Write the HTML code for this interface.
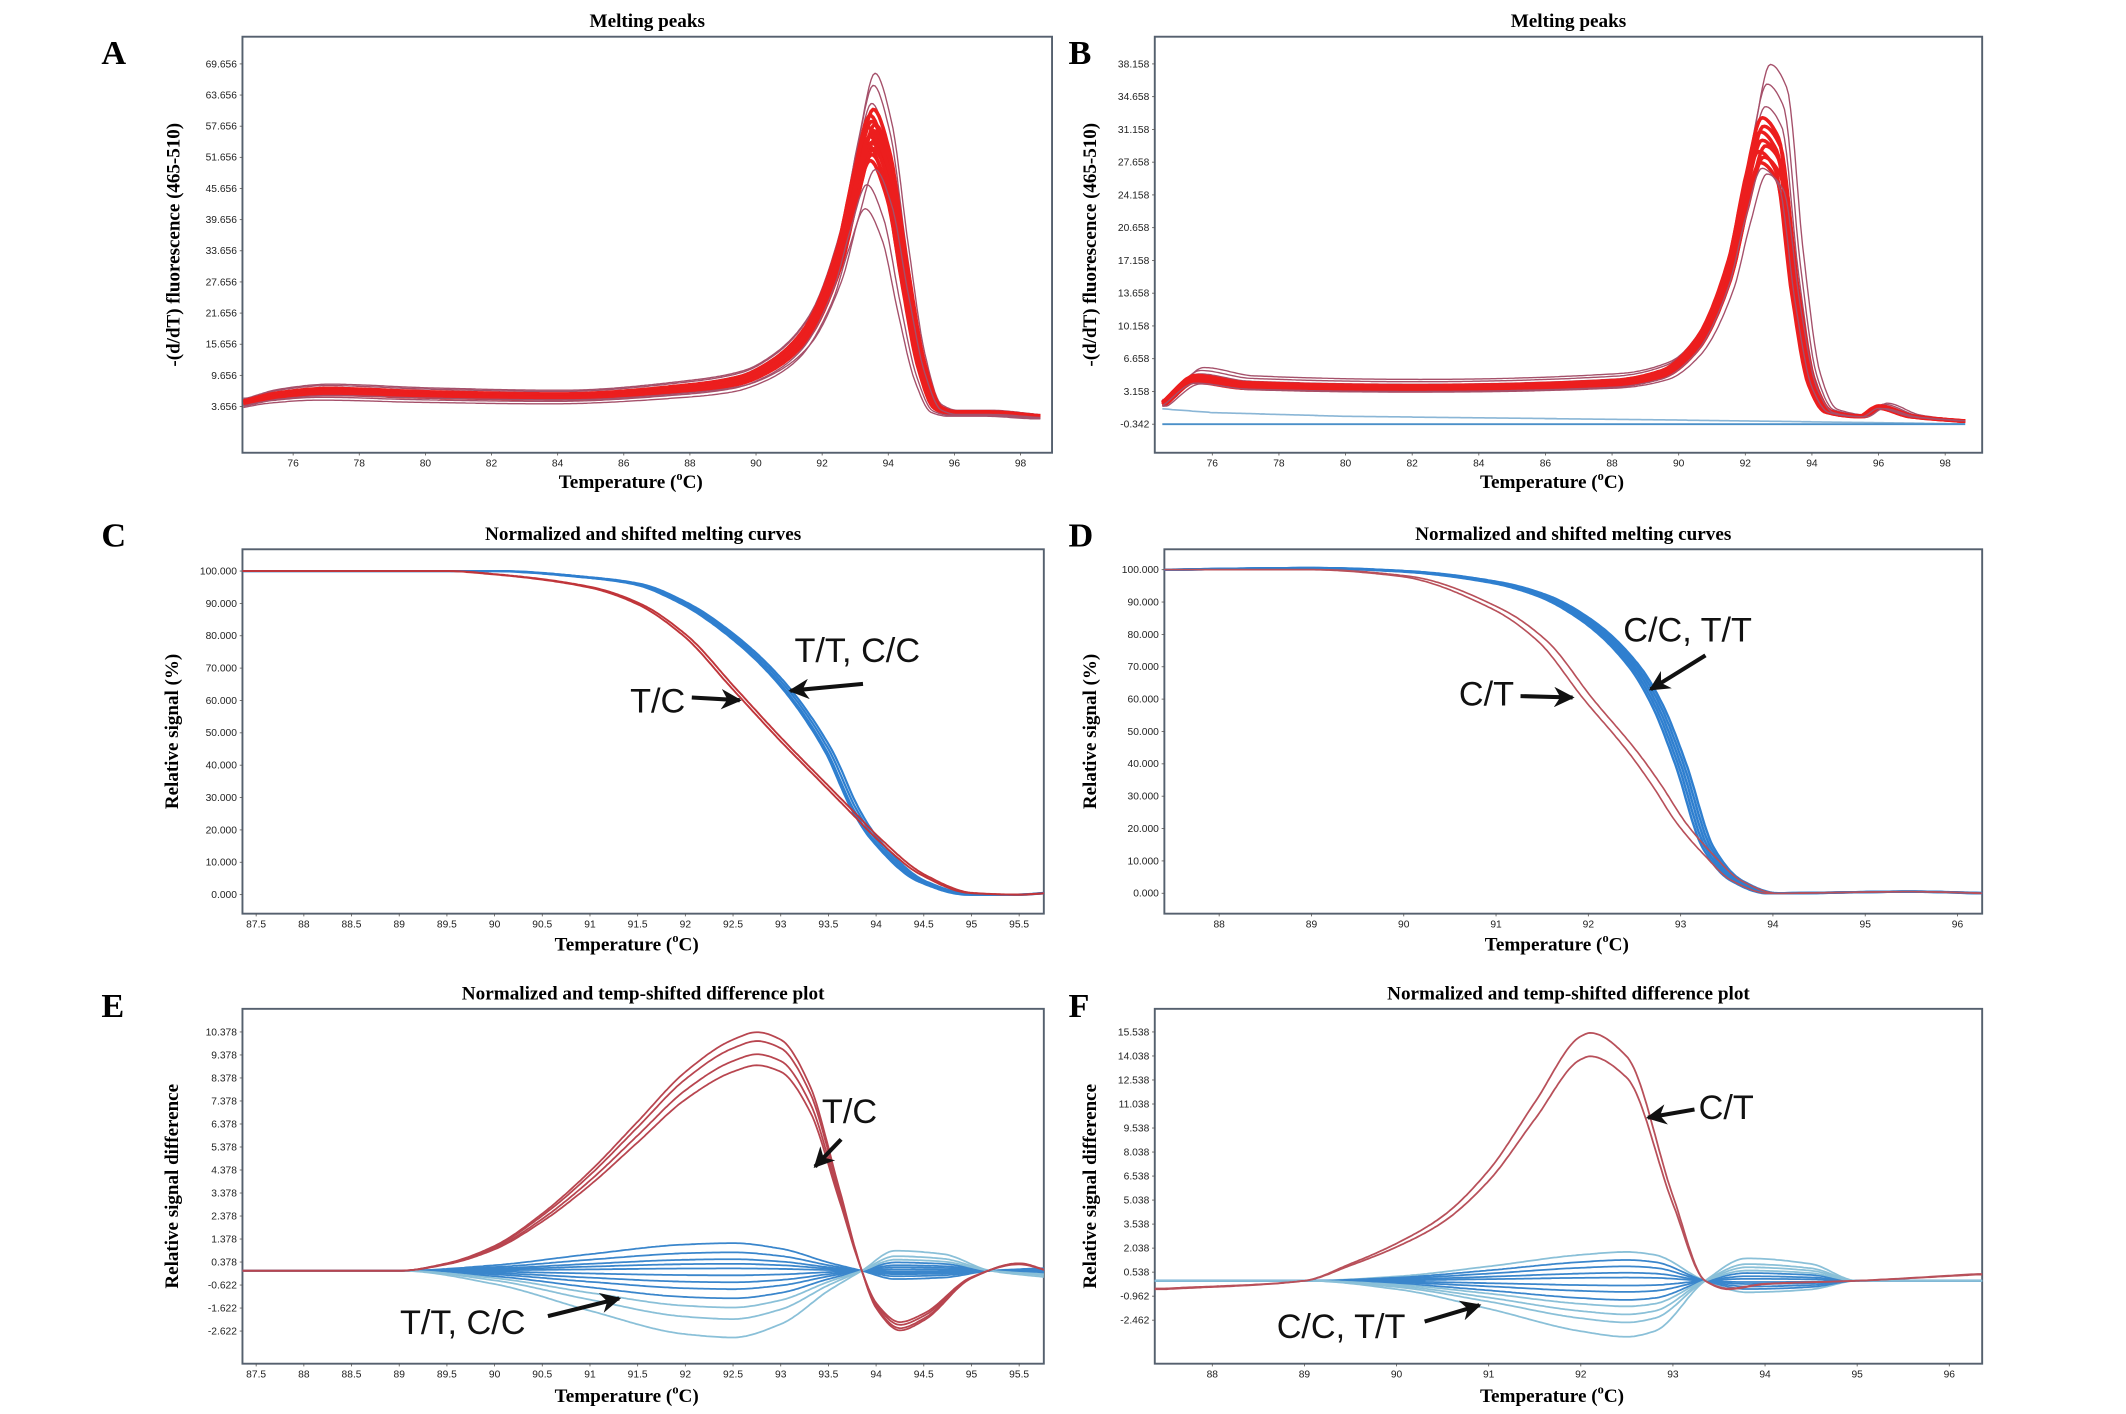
<!DOCTYPE html>
<html><head><meta charset="utf-8"><style>
html,body{margin:0;padding:0;background:#fff;}
svg{display:block;}
text{font-family:"Liberation Serif",serif;}
.tk{font-family:"Liberation Sans",sans-serif;font-size:7.5px;fill:#222;}
.ttl{font-weight:bold;font-size:14px;}
.lab{font-weight:bold;font-size:25px;}
.ann{font-size:25px;fill:#111;font-family:"Liberation Sans",sans-serif;}
</style></head><body>
<svg id="fig" width="2126" height="1414" viewBox="0 0 1552 1040" preserveAspectRatio="none" xmlns="http://www.w3.org/2000/svg">
<defs>
<marker id="ah" viewBox="0 0 10 10" refX="9" refY="5" markerWidth="5" markerHeight="5" orient="auto"><path d="M0,0 L10,5 L0,10 L3,5 z" fill="#111"/></marker>
</defs>
</svg>
<script>
// ---------- data ----------
const aTemps = [74.5,75.5,77,80,84,88,89.5,90.5,91.5,92.5,93,93.5,94,94.5,95,95.5,96,97,98.5];
const aBase  = [4.5,6,6.8,6.2,5.8,7.5,9,12,18,33,47,58,50,30,12,3.5,2.5,2.5,1.8];
const aScales = [1.17,1.13,1.07,1.05,1.03,1.01,1.0,0.99,0.98,0.97,0.96,0.95,0.94,0.93,0.92,0.9,0.88,0.85,0.8,0.72];
const aShifts = [0.1,0.05,0,0.05,-0.05,0,0.1,-0.1,0.05,0,-0.05,0.1,0,-0.1,0.05,0,-0.05,0.1,-0.15,-0.2];
const aYTicks = [69.656,63.656,57.656,51.656,45.656,39.656,33.656,27.656,21.656,15.656,9.656,3.656];
const aXTicks = [76,78,80,82,84,86,88,90,92,94,96,98];

const bTemps = [74.5,75.5,77,82,88,89.5,90.5,91.5,92,92.5,93,93.5,94,94.5,95.5,96,97,98.5];
const bBase  = [1.8,4.5,3.8,3.5,4,5,8,16,24,30,28,14,4,1,0.5,1.5,0.5,0];
const bScales = [1.27,1.2,1.12,1.08,1.05,1.03,1.0,0.98,0.96,0.94,0.92,0.9,0.88];
const bShifts = [0.25,0.15,0.1,0,0.05,-0.05,0,0.1,-0.1,0.05,-0.05,0,0.15];
const bBlueTemps = [74.5,76,80,90,98.5];
const bBlue1 = [1.3,0.9,0.5,0.1,-0.3];
const bBlue2 = [-0.342,-0.342,-0.342,-0.342,-0.342];
const bYTicks = [38.158,34.658,31.158,27.658,24.158,20.658,17.158,13.658,10.158,6.658,3.158,-0.342];
const bXTicks = [76,78,80,82,84,86,88,90,92,94,96,98];

const cTemps = [87.5,89.5,90,91,91.5,92,92.5,93,93.5,93.8,94,94.5,95,95.5,95.8];
const cRed   = [100,100,99,95,90,80,64,48,33,24,18,6,0.5,0,0.5];
const cBlue  = [100,100,100,98,96,90,80,66,45,26,17,4,0,0,0.5];
const cYTicks = [100,90,80,70,60,50,40,30,20,10,0];
const cXTicks = [87.5,88,88.5,89,89.5,90,90.5,91,91.5,92,92.5,93,93.5,94,94.5,95,95.5];

const dTemps = [87.5,89,90,91,91.5,92,92.5,92.75,93,93.3,93.6,94,95.5,96.3];
const dRed   = [100,100,98,88,78,60,43,33,22,12,4,0,0.5,0];
const dBlue  = [100,100.5,99.5,96,92,84,70,58,40,14,4,0,0.5,0];
const dYTicks = [100,90,80,70,60,50,40,30,20,10,0];
const dXTicks = [88,89,90,91,92,93,94,95,96];

const eTemps = [87.5,89,89.5,90,90.5,91,91.5,92,92.5,92.75,93,93.3,93.6,93.85,94,94.25,94.5,95,95.5,95.8];
const eRed   = [0,0,0.3,1,2.3,4,6,8,9.3,9.6,9.3,7.5,3.5,0,-1.5,-2.4,-2,-0.3,0.3,0];
const eRedScales = [1.08,1.04,0.98,0.93];
const eBlueTemps = [87.5,89,90,91,92,92.5,93,93.5,93.85,94.2,94.7,95.2,95.8];
const eBlueShape = [0,0,0.2,0.6,0.95,1,0.8,0.3,0,-0.3,-0.25,0,0.1];
const eBlueAmps = [1.2,0.8,0.5,0.3,0.1,-0.2,-0.5,-0.8,-1.2,-1.6,-2.1,-2.9];
const eYTicks = [10.378,9.378,8.378,7.378,6.378,5.378,4.378,3.378,2.378,1.378,0.378,-0.622,-1.622,-2.622];
const eXTicks = cXTicks;

const fTemps = [87.5,89,89.5,90,90.5,91,91.5,92,92.1,92.5,93,93.35,93.6,94,95,96.3];
const fRed   = [-0.5,0,1,2.2,3.8,6.5,10.5,14.4,14.6,13.2,5,0,-0.5,-0.2,0,0.4];
const fRedScales = [1.06,0.96];
const fBlueTemps = [87.5,89,90,91,92,92.5,92.8,93.35,93.8,94.5,95,96.3];
const fBlueShape = [0,0,0.15,0.5,0.9,1,0.9,0,-0.4,-0.3,0,0];
const fBlueAmps = [1.8,1.3,0.9,0.5,0.2,-0.3,-0.7,-1.2,-1.6,-2.1,-2.6,-3.5];
const fYTicks = [15.538,14.038,12.538,11.038,9.538,8.038,6.538,5.038,3.538,2.038,0.538,-0.962,-2.462];
const fXTicks = dXTicks;

// ---------- helpers ----------
const NS='http://www.w3.org/2000/svg';
const svg=document.getElementById('fig');
function el(tag,attrs,parent){const e=document.createElementNS(NS,tag);for(const k in attrs)e.setAttribute(k,attrs[k]);(parent||svg).appendChild(e);return e;}
function lin(d0,d1,r0,r1){return v=>r0+(v-d0)*(r1-r0)/(d1-d0);}
function interp(ts,vs,t){if(t<=ts[0])return vs[0];for(let i=1;i<ts.length;i++){if(t<=ts[i]){const f=(t-ts[i-1])/(ts[i]-ts[i-1]);return vs[i-1]+f*(vs[i]-vs[i-1]);}}return vs[vs.length-1];}
// monotone cubic (Fritsch-Carlson) interpolation
const mcache=new Map();
function slopes(ts,vs){
  if(mcache.has(vs))return mcache.get(vs);
  const n=ts.length,d=[],m=new Array(n);
  for(let i=0;i<n-1;i++)d.push((vs[i+1]-vs[i])/(ts[i+1]-ts[i]));
  m[0]=d[0];m[n-1]=d[n-2];
  for(let i=1;i<n-1;i++){if(d[i-1]*d[i]<=0)m[i]=0;else{const w1=2*(ts[i+1]-ts[i])+(ts[i]-ts[i-1]),w2=(ts[i+1]-ts[i])+2*(ts[i]-ts[i-1]);m[i]=(w1+w2)/(w1/d[i-1]+w2/d[i]);}}
  mcache.set(vs,m);return m;
}
function sample(ts,vs,t){
  if(t<=ts[0])return vs[0];if(t>=ts[ts.length-1])return vs[vs.length-1];
  const m=slopes(ts,vs);
  for(let i=1;i<ts.length;i++){if(t<=ts[i]){const h=ts[i]-ts[i-1],s=(t-ts[i-1])/h;
    const h00=2*s*s*s-3*s*s+1,h10=s*s*s-2*s*s+s,h01=-2*s*s*s+3*s*s,h11=s*s*s-s*s;
    return h00*vs[i-1]+h10*h*m[i-1]+h01*vs[i]+h11*h*m[i];}}
  return vs[vs.length-1];
}

function panel(p){
  const g=el('g',{});
  
  
  const [x0,y0,x1,y1]=p.box;
  const cid='clip-'+p.name;
  const cp=el('clipPath',{id:cid},g);el('rect',{x:x0,y:y0,width:x1-x0,height:y1-y0},cp);
  const frame=el('rect',{x:x0,y:y0,width:x1-x0,height:y1-y0,fill:'#fff',stroke:'#55606e','stroke-width':1.4},g);
  
  
  const X=lin(p.xd[0],p.xd[1],p.xr[0],p.xr[1]);
  const Y=lin(p.yd[0],p.yd[1],p.yr[0],p.yr[1]);
  const yg=el('g',{},g);
  
  
  p.yticks.forEach(v=>{
    const t=el('text',{x:x0-4,y:Y(v)+2.5,'text-anchor':'end',class:'tk'},yg);
    t.textContent=v.toFixed(3);
    el('line',{x1:x0-2,x2:x0,y1:Y(v),y2:Y(v),stroke:'#555','stroke-width':0.6},yg);
  });
  const xg=el('g',{},g);
  
  
  p.xticks.forEach(v=>{
    const t=el('text',{x:X(v),y:y1+10,'text-anchor':'middle',class:'tk'},xg);
    t.textContent=String(v);
    el('line',{x1:X(v),x2:X(v),y1:y1,y2:y1+2,stroke:'#555','stroke-width':0.6},xg);
  });
  const tt=el('text',{x:(x0+x1)/2,y:y0-7,'text-anchor':'middle',class:'ttl'},g);
  tt.textContent=p.title;
  
  
  const xt=el('text',{x:(x0+x1)/2-12,y:p.xtY,'text-anchor':'middle',class:'ttl','font-size':15},g);
  xt.innerHTML='Temperature (<tspan dy="-6" font-size="9">o</tspan><tspan dy="6">C)</tspan>';
  
  
  const yt=el('text',{x:0,y:0,'text-anchor':'middle',class:'ttl','font-size':14,transform:`translate(${p.ytX},${(y0+y1)/2}) rotate(-90)`},g);
  yt.textContent=p.ytitle;
  
  
  const lt=el('text',{x:p.letter[0],y:p.letter[1],class:'lab'},g);
  lt.textContent=p.letterText;
  
  
  const sg=el('g',{'clip-path':`url(#${cid})`},g);
  
  
  return {g,sg,X,Y,x0,x1};
}
function curve(P,fn,t0,t1,color,w,name){
  let pts=[];for(let i=0;i<=400;i++){const t=t0+(t1-t0)*i/400;pts.push(P.X(t).toFixed(1)+','+P.Y(fn(t)).toFixed(1));}
  const pl=el('polyline',{points:pts.join(' '),fill:'none',stroke:color,'stroke-width':w,'stroke-linejoin':'round'},P.sg);
  
  
}
function arrow(x1,y1,x2,y2){const a=el('line',{x1,y1,x2,y2,stroke:'#111','stroke-width':3,'marker-end':'url(#ah)'});}
function ann(x,y,txt){const t=el('text',{x,y,class:'ann'});t.textContent=txt;}

// ---------- A ----------
const A=panel({name:'panel-a',box:[177,27,768,333],xd:[76,98],xr:[214,745],yd:[69.656,3.656],yr:[47,299],yticks:aYTicks,xticks:aXTicks,title:'Melting peaks',xtY:359,ytitle:'-(d/dT) fluorescence (465-510)',ytX:131,letter:[74,47],letterText:'A'});
aScales.forEach((s,i)=>{const thin=(i<3||i>=aScales.length-3);curve(A,t=>sample(aTemps,aBase,t-aShifts[i])*s,74.5,98.6,thin?'#a5506a':'#ec1e1e',thin?1:2.6,'melt-peak-curve');});
// ---------- B ----------
const B=panel({name:'panel-b',box:[843,27,1447,333],xd:[76,98],xr:[885,1420],yd:[38.158,-0.342],yr:[47,312],yticks:bYTicks,xticks:bXTicks,title:'Melting peaks',xtY:359,ytitle:'-(d/dT) fluorescence (465-510)',ytX:800,letter:[780,47],letterText:'B'});
curve(B,t=>interp(bBlueTemps,bBlue1,t),74.5,98.6,'#8ab6d6',1.2,'baseline-curve');
curve(B,t=>interp(bBlueTemps,bBlue2,t),74.5,98.6,'#4a8fc8',1.4,'baseline-curve');
bScales.forEach((s,i)=>{const thin=(i<3||i>=bScales.length-2);curve(B,t=>sample(bTemps,bBase,t-bShifts[i])*s,74.5,98.6,thin?'#a5506a':'#ec1e1e',thin?1:2.6,'melt-peak-curve');});
// ---------- C ----------
const C=panel({name:'panel-c',box:[177,404,762,672],xd:[87.5,95.5],xr:[187,744],yd:[100,0],yr:[420,658],yticks:cYTicks,xticks:cXTicks,title:'Normalized and shifted melting curves',xtY:699,ytitle:'Relative signal (%)',ytX:130,letter:[74,402],letterText:'C'});
[-0.03,0,0.03,0.05].forEach(d=>curve(C,t=>sample(cTemps,cBlue,t+d),87.2,95.9,'#2f7fcf',1.6,'homozygote-curve'));
[-0.02,0.02].forEach(d=>curve(C,t=>sample(cTemps,cRed,t+d),87.2,95.9,'#c0353a',1.4,'heterozygote-curve'));
ann(580,487,'T/T, C/C');arrow(630,503,577,508);
ann(460,524,'T/C');arrow(505,513,540,515);
// ---------- D ----------
const D=panel({name:'panel-d',box:[850,404,1447,672],xd:[88,96],xr:[890,1429],yd:[100,0],yr:[419,657],yticks:dYTicks,xticks:dXTicks,title:'Normalized and shifted melting curves',xtY:699,ytitle:'Relative signal (%)',ytX:800,letter:[780,402],letterText:'D'});
[-0.06,-0.03,0,0.03,0.06].forEach(d=>curve(D,t=>sample(dTemps,dBlue,t+d),87.3,96.4,'#2f7fcf',1.8,'homozygote-curve'));
[-0.05,0.05].forEach(d=>curve(D,t=>sample(dTemps,dRed,t+d),87.3,96.4,'#b8505a',1.2,'heterozygote-curve'));
ann(1185,472,'C/C, T/T');arrow(1245,482,1205,507);
ann(1065,519,'C/T');arrow(1110,512,1148,513);
// ---------- E ----------
const E=panel({name:'panel-e',box:[177,742,762,1003],xd:[87.5,95.5],xr:[187,744],yd:[10.378,-2.622],yr:[759,979],yticks:eYTicks,xticks:eXTicks,title:'Normalized and temp-shifted difference plot',xtY:1031,ytitle:'Relative signal difference',ytX:130,letter:[74,748],letterText:'E'});
eBlueAmps.forEach(a=>curve(E,t=>sample(eBlueTemps,eBlueShape,t)*a,87.2,95.9,Math.abs(a)>1.5?'#8ac0d8':'#3a86cc',1.3,'homozygote-diff-curve'));
eRedScales.forEach(s=>curve(E,t=>sample(eTemps,eRed,t)*s,87.2,95.9,'#b8454f',1.3,'heterozygote-diff-curve'));
ann(600,826,'T/C');arrow(614,838,595,858);
ann(292,981,'T/T, C/C');arrow(400,968,452,955);
// ---------- F ----------
const F=panel({name:'panel-f',box:[843,742,1447,1003],xd:[88,96],xr:[885,1423],yd:[15.538,-2.462],yr:[759,971],yticks:fYTicks,xticks:fXTicks,title:'Normalized and temp-shifted difference plot',xtY:1031,ytitle:'Relative signal difference',ytX:800,letter:[780,748],letterText:'F'});
fBlueAmps.forEach(a=>curve(F,t=>sample(fBlueTemps,fBlueShape,t)*a,87.3,96.4,Math.abs(a)>1.5?'#8ac0d8':'#3a86cc',1.3,'homozygote-diff-curve'));
fRedScales.forEach(s=>curve(F,t=>sample(fTemps,fRed,t)*s,87.3,96.4,'#b8505a',1.3,'heterozygote-diff-curve'));
ann(1240,823,'C/T');arrow(1237,816,1203,822);
ann(932,984,'C/C, T/T');arrow(1040,972,1080,960);
</script>
</body></html>
